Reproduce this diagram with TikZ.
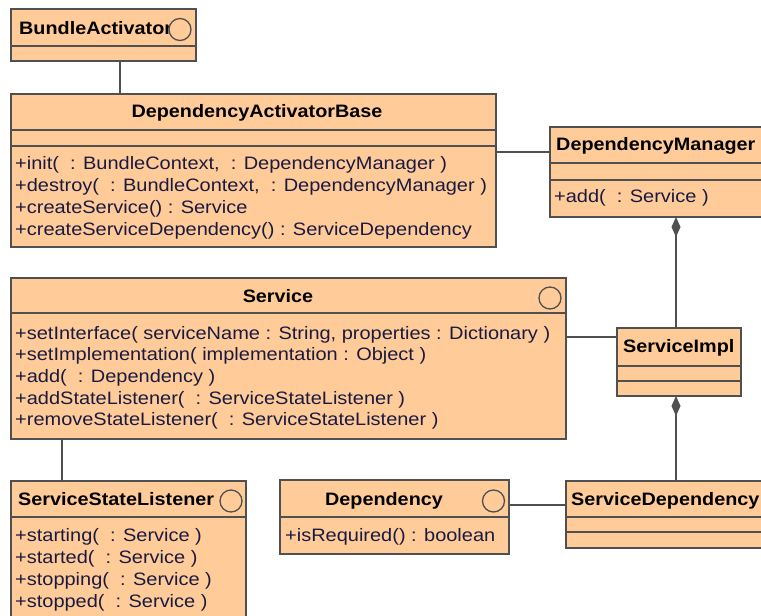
\documentclass[tikz,border=0pt]{standalone}
\usepackage{fontspec}
\setmainfont[FakeStretch=1.11, BoldFeatures={FakeStretch=1.10}]{Liberation Sans}
\usetikzlibrary{arrows.meta}
\definecolor{classfill}{HTML}{FFCC99}
\definecolor{classline}{HTML}{505050}
\definecolor{optext}{HTML}{1A1A40}
\tikzset{
  classbox/.style={draw=classline, fill=classfill, line width=1.5pt, inner sep=0pt, outer sep=0pt, anchor=north west},
  compartment/.style={draw=classline, line width=1.5pt},
  classname/.style={font=\fontsize{18}{21}\selectfont\bfseries, text=black, inner sep=0pt},
  operation/.style={font=\fontsize{18}{21}\selectfont, text=optext, inner sep=0pt, anchor=base west},
  iface/.style={circle, draw=classline, fill=classfill, line width=1.3pt, minimum size=22pt, inner sep=0pt},
  assoc/.style={draw=classline, line width=1.5pt},
  compose/.style={assoc, {Diamond[length=20pt,width=9pt,fill=classline]}-},
}
\newcommand{\gap}{\ \ }
\begin{document}
\begin{tikzpicture}[x=1pt, y=-1pt]
\clip (0,0) rectangle (761,616);
\fill[white] (0,0) rectangle (761,616);

% ---- BundleActivator
\node[classbox, minimum width=185pt, minimum height=52pt] (ba) at (11,9) {};
\draw[compartment] (ba.west |- 0,46) -- (ba.east |- 0,46);
\node[classname, anchor=base west] (ba-name) at (19,34) {BundleActivator};
\node[iface] (ba-if) at (180,29.5) {};

% ---- DependencyActivatorBase
\node[classbox, minimum width=485pt, minimum height=153pt] (dab) at (11,94) {};
\draw[compartment] (dab.west |- 0,130) -- (dab.east |- 0,130);
\draw[compartment] (dab.west |- 0,146) -- (dab.east |- 0,146);
\node[classname, anchor=base] (dab-name) at (257,117) {DependencyActivatorBase};
\foreach \op [count=\i] in {
  {+init(\gap: BundleContext,\gap: DependencyManager )},
  {+destroy(\gap: BundleContext,\gap: DependencyManager )},
  {+createService() : Service},
  {+createServiceDependency() : ServiceDependency}}
  \node[operation] (dab-op\i) at (15,{169+22*(\i-1)}) {\op};

% ---- DependencyManager
\node[classbox, minimum width=230pt, minimum height=90pt] (dm) at (550,127) {};
\draw[compartment] (dm.west |- 0,163) -- (dm.east |- 0,163);
\draw[compartment] (dm.west |- 0,180) -- (dm.east |- 0,180);
\node[classname, anchor=base west] (dm-name) at (556,150) {DependencyManager};
\node[operation] (dm-op1) at (554,202) {+add(\gap: Service )};

% ---- Service
\node[classbox, minimum width=555pt, minimum height=161pt] (svc) at (11,278) {};
\draw[compartment] (svc.west |- 0,313) -- (svc.east |- 0,313);
\node[classname, anchor=base] (svc-name) at (278,302) {Service};
\node[iface] (svc-if) at (550,298) {};
\foreach \op [count=\i] in {
  {+setInterface( serviceName : String, properties : Dictionary )},
  {+setImplementation( implementation : Object )},
  {+add(\gap: Dependency )},
  {+addStateListener(\gap: ServiceStateListener )},
  {+removeStateListener(\gap: ServiceStateListener )}}
  \node[operation] (svc-op\i) at (15,{339+21.7*(\i-1)}) {\op};

% ---- ServiceImpl
\node[classbox, minimum width=124pt, minimum height=68pt] (si) at (617,328) {};
\draw[compartment] (si.west |- 0,366) -- (si.east |- 0,366);
\draw[compartment] (si.west |- 0,381) -- (si.east |- 0,381);
\node[classname, anchor=base west] (si-name) at (623,352) {ServiceImpl};

% ---- ServiceStateListener
\node[classbox, minimum width=235pt, minimum height=160pt] (ssl) at (11,481) {};
\draw[compartment] (ssl.west |- 0,517) -- (ssl.east |- 0,517);
\node[classname, anchor=base west] (ssl-name) at (18,505) {ServiceStateListener};
\node[iface] (ssl-if) at (231,501) {};
\foreach \op [count=\i] in {
  {+starting(\gap: Service )},
  {+started(\gap: Service )},
  {+stopping(\gap: Service )},
  {+stopped(\gap: Service )}}
  \node[operation] (ssl-op\i) at (15,{541+22*(\i-1)}) {\op};

% ---- Dependency
\node[classbox, minimum width=229pt, minimum height=74pt] (dep) at (280,480) {};
\draw[compartment] (dep.west |- 0,517) -- (dep.east |- 0,517);
\node[classname, anchor=base] (dep-name) at (384,505) {Dependency};
\node[iface] (dep-if) at (493.5,501) {};
\node[operation] (dep-op1) at (285,541) {+isRequired() : boolean};

% ---- ServiceDependency
\node[classbox, minimum width=230pt, minimum height=67pt] (sd) at (566,481) {};
\draw[compartment] (sd.west |- 0,517) -- (sd.east |- 0,517);
\draw[compartment] (sd.west |- 0,532) -- (sd.east |- 0,532);
\node[classname, anchor=base west] (sd-name) at (571,505) {ServiceDependency};

% ---- relations
\draw[assoc] (ba.south -| 120,0) -- (dab.north -| 120,0);
\draw[assoc] (dab.east |- 0,152) -- (dm.west |- 0,152);
\draw[assoc] (svc.east |- 0,337) -- (si.west |- 0,337);
\draw[assoc] (svc.south -| 62,0) -- (ssl.north -| 62,0);
\draw[assoc] (dep.east |- 0,505) -- (sd.west |- 0,505);
\draw[compose] (dm.south -| 676,0) -- (si.north -| 676,0);
\draw[compose] (si.south -| 676,0) -- (sd.north -| 676,0);
\end{tikzpicture}
\end{document}
